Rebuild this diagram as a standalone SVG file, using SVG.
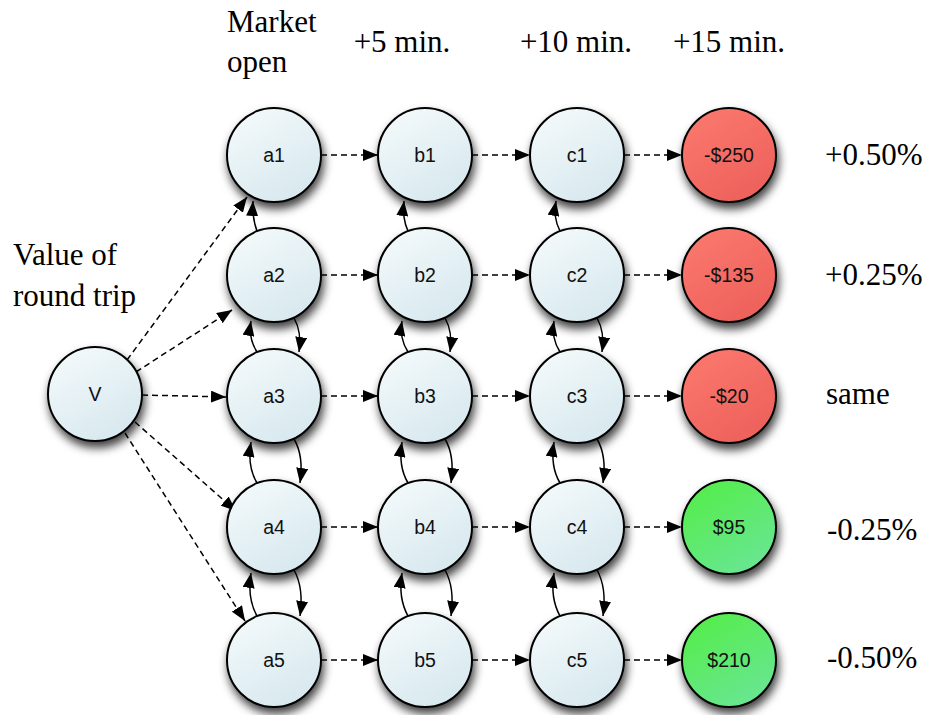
<svg xmlns="http://www.w3.org/2000/svg" width="927" height="715" viewBox="0 0 927 715">
  <defs>
    <linearGradient id="gBlue" x1="0" y1="0" x2="0.6" y2="1">
      <stop offset="0" stop-color="#f6fbfc"/>
      <stop offset="1" stop-color="#d8e9ef"/>
    </linearGradient>
    <linearGradient id="gRed" x1="0" y1="0" x2="0.6" y2="1">
      <stop offset="0" stop-color="#fc7a70"/>
      <stop offset="1" stop-color="#ee625c"/>
    </linearGradient>
    <linearGradient id="gGreen" x1="0" y1="0" x2="0.6" y2="1">
      <stop offset="0" stop-color="#52ee42"/>
      <stop offset="1" stop-color="#68e690"/>
    </linearGradient>
    <filter id="shadow" x="-40%" y="-40%" width="180%" height="190%">
      <feDropShadow dx="2" dy="6" stdDeviation="5" flood-color="#000" flood-opacity="0.75"/>
    </filter>
    <marker id="arrow" viewBox="0 0 15 12" refX="15" refY="6" markerWidth="15" markerHeight="12" markerUnits="userSpaceOnUse" orient="auto">
      <path d="M0,0 L15,6 L0,12 Z" fill="#000"/>
    </marker>
  </defs>
  <style>
    .node circle { stroke: #000; stroke-width: 2; filter: url(#shadow); }
    .blue circle { fill: url(#gBlue); }
    .red circle { fill: url(#gRed); }
    .green circle { fill: url(#gGreen); }
    .node text { font-family: "Liberation Sans", Arial, sans-serif; font-size: 19.5px; fill: #111; text-anchor: middle; dominant-baseline: central; }
    .dash { stroke: #000; stroke-width: 1.5; stroke-dasharray: 6 4; fill: none; marker-end: url(#arrow); }
    .curve { stroke: #000; stroke-width: 1.5; fill: none; marker-end: url(#arrow); }
    .lbl { font-family: "Liberation Serif", "Times New Roman", serif; font-size: 31px; fill: #000; }
    .mid { text-anchor: middle; }
  </style>

  <!-- headings and side labels -->
  <g id="labels">
    <text class="lbl" x="227" y="32">Market</text>
    <text class="lbl" x="227" y="72">open</text>
    <text class="lbl mid" x="402" y="52">+5 min.</text>
    <text class="lbl mid" x="576" y="52">+10 min.</text>
    <text class="lbl mid" x="729" y="52">+15 min.</text>
    <text class="lbl" x="13" y="265">Value of</text>
    <text class="lbl" x="13" y="306">round trip</text>
    <text class="lbl" x="825" y="165">+0.50%</text>
    <text class="lbl" x="825" y="285">+0.25%</text>
    <text class="lbl" x="826" y="404">same</text>
    <text class="lbl" x="827" y="540">-0.25%</text>
    <text class="lbl" x="827" y="668">-0.50%</text>
  </g>

  <!-- connectors -->
  <g id="connectors">
    <!-- from V to the first column -->
    <path class="dash" d="M127,360 L247,197"/>
    <path class="dash" d="M136,372 L232,310"/>
    <path class="dash" d="M142,395 L226,397"/>
    <path class="dash" d="M135,422 L236,511"/>
    <path class="dash" d="M125,433 L245,621"/>

    <!-- rows: left to right -->
    <path class="dash" d="M321,155 L378,155"/>
    <path class="dash" d="M472,155 L530,155"/>
    <path class="dash" d="M624,155 L682,155"/>
    <path class="dash" d="M321,275 L378,275"/>
    <path class="dash" d="M472,275 L530,275"/>
    <path class="dash" d="M624,275 L682,275"/>
    <path class="dash" d="M321,396 L378,396"/>
    <path class="dash" d="M472,396 L530,396"/>
    <path class="dash" d="M624,396 L682,396"/>
    <path class="dash" d="M321,527 L378,527"/>
    <path class="dash" d="M472,527 L530,527"/>
    <path class="dash" d="M624,527 L682,527"/>
    <path class="dash" d="M321,660 L378,660"/>
    <path class="dash" d="M472,660 L530,660"/>
    <path class="dash" d="M624,660 L682,660"/>

    <!-- row 2 to row 1 (up only) -->
    <path class="curve" d="M257,231 Q252,218 253,201"/>
    <path class="curve" d="M408,231 Q402,218 404,201"/>
    <path class="curve" d="M560,231 Q553,218 556,201"/>

    <!-- rows 2 and 3 -->
    <path class="curve" d="M257,352 Q248,338 251,321"/>
    <path class="curve" d="M294,318 Q302,332 299,352"/>
    <path class="curve" d="M408,352 Q399,338 402,321"/>
    <path class="curve" d="M445,318 Q453,332 450,352"/>
    <path class="curve" d="M560,352 Q551,338 554,321"/>
    <path class="curve" d="M597,318 Q605,332 602,352"/>

    <!-- rows 3 and 4 -->
    <path class="curve" d="M257,483 Q247,466 251,442"/>
    <path class="curve" d="M294,439 Q304,456 300,483"/>
    <path class="curve" d="M408,483 Q398,466 402,442"/>
    <path class="curve" d="M445,439 Q455,456 451,483"/>
    <path class="curve" d="M560,483 Q550,466 554,442"/>
    <path class="curve" d="M597,439 Q607,456 603,483"/>

    <!-- rows 4 and 5 -->
    <path class="curve" d="M257,616 Q247,598 251,573"/>
    <path class="curve" d="M294,570 Q304,588 300,616"/>
    <path class="curve" d="M408,616 Q398,598 402,573"/>
    <path class="curve" d="M445,570 Q455,588 451,616"/>
    <path class="curve" d="M560,616 Q550,598 554,573"/>
    <path class="curve" d="M597,570 Q607,588 603,616"/>
  </g>

  <!-- nodes -->
  <g id="V" class="node blue"><circle cx="95" cy="394" r="47"/><text x="95" y="394">V</text></g>

  <g id="a1" class="node blue"><circle cx="274" cy="155" r="47"/><text x="274" y="155">a1</text></g>
  <g id="a2" class="node blue"><circle cx="274" cy="275" r="47"/><text x="274" y="275">a2</text></g>
  <g id="a3" class="node blue"><circle cx="274" cy="396" r="47"/><text x="274" y="396">a3</text></g>
  <g id="a4" class="node blue"><circle cx="274" cy="527" r="47"/><text x="274" y="527">a4</text></g>
  <g id="a5" class="node blue"><circle cx="274" cy="660" r="47"/><text x="274" y="660">a5</text></g>

  <g id="b1" class="node blue"><circle cx="425" cy="155" r="47"/><text x="425" y="155">b1</text></g>
  <g id="b2" class="node blue"><circle cx="425" cy="275" r="47"/><text x="425" y="275">b2</text></g>
  <g id="b3" class="node blue"><circle cx="425" cy="396" r="47"/><text x="425" y="396">b3</text></g>
  <g id="b4" class="node blue"><circle cx="425" cy="527" r="47"/><text x="425" y="527">b4</text></g>
  <g id="b5" class="node blue"><circle cx="425" cy="660" r="47"/><text x="425" y="660">b5</text></g>

  <g id="c1" class="node blue"><circle cx="577" cy="155" r="47"/><text x="577" y="155">c1</text></g>
  <g id="c2" class="node blue"><circle cx="577" cy="275" r="47"/><text x="577" y="275">c2</text></g>
  <g id="c3" class="node blue"><circle cx="577" cy="396" r="47"/><text x="577" y="396">c3</text></g>
  <g id="c4" class="node blue"><circle cx="577" cy="527" r="47"/><text x="577" y="527">c4</text></g>
  <g id="c5" class="node blue"><circle cx="577" cy="660" r="47"/><text x="577" y="660">c5</text></g>

  <g id="d1" class="node red"><circle cx="729" cy="155" r="47"/><text x="729" y="155">-$250</text></g>
  <g id="d2" class="node red"><circle cx="729" cy="275" r="47"/><text x="729" y="275">-$135</text></g>
  <g id="d3" class="node red"><circle cx="729" cy="396" r="47"/><text x="729" y="396">-$20</text></g>
  <g id="d4" class="node green"><circle cx="729" cy="527" r="47"/><text x="729" y="527">$95</text></g>
  <g id="d5" class="node green"><circle cx="729" cy="660" r="47"/><text x="729" y="660">$210</text></g>
</svg>
